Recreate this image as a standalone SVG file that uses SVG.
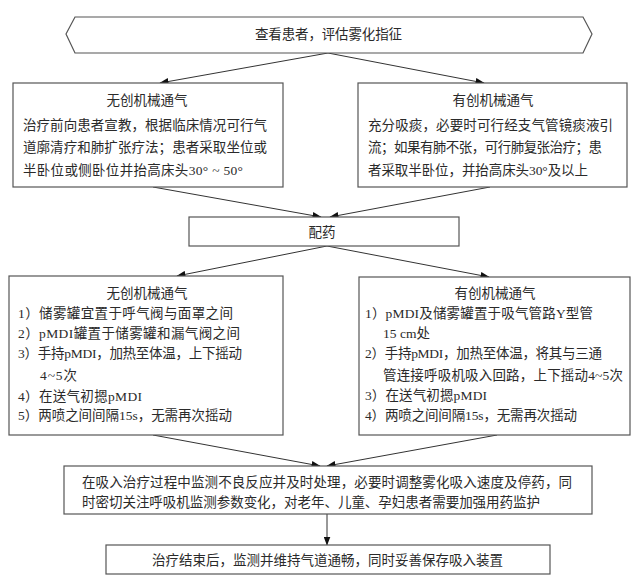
<svg xmlns="http://www.w3.org/2000/svg" width="640" height="586" viewBox="0 0 640 586">
<defs>
<style>
.box{fill:#fff;stroke:#555;stroke-width:1.2}
.t{font-family:"Liberation Serif","Noto Sans CJK SC",serif;font-size:13.5px;fill:#2a2a2a}
.c{text-anchor:middle}
.ln{stroke:#333;stroke-width:1;fill:none}
</style>
<marker id="ah" markerWidth="9" markerHeight="7" refX="8.5" refY="3.5" orient="auto" markerUnits="userSpaceOnUse">
<path d="M0,0 L9,3.5 L0,7 Z" fill="#111"/>
</marker>
</defs>
<rect width="640" height="586" fill="#fff"/>
<g id="connectors">
<line class="ln" x1="328" y1="53" x2="160" y2="83" marker-end="url(#ah)"/>
<line class="ln" x1="328" y1="53" x2="484" y2="83" marker-end="url(#ah)"/>
<line class="ln" x1="153" y1="187" x2="321" y2="217" marker-end="url(#ah)"/>
<line class="ln" x1="490" y1="187" x2="330" y2="217" marker-end="url(#ah)"/>
<line class="ln" x1="327" y1="246" x2="177" y2="276" marker-end="url(#ah)"/>
<line class="ln" x1="327" y1="246" x2="489" y2="277" marker-end="url(#ah)"/>
<line class="ln" x1="153" y1="435" x2="320" y2="466" marker-end="url(#ah)"/>
<line class="ln" x1="497" y1="435" x2="327" y2="466" marker-end="url(#ah)"/>
<line class="ln" x1="327" y1="514" x2="327" y2="545" marker-end="url(#ah)"/>
</g>
<g id="assess">
<polygon class="box" points="66,34 75,17 583,17 592,34 583,53 75,53"/>
<text class="t" x="255" y="39" textLength="147" lengthAdjust="spacing">查看患者，评估雾化指征</text>
</g>
<g id="noninvasive1">
<rect class="box" x="13" y="83" width="270" height="104"/>
<text class="t c" x="147" y="105">无创机械通气</text>
<text class="t" x="23" y="130" textLength="244" lengthAdjust="spacing">治疗前向患者宣教，根据临床情况可行气</text>
<text class="t" x="23" y="152" textLength="244" lengthAdjust="spacing">道廓清疗和肺扩张疗法；患者采取坐位或</text>
<text class="t" x="23" y="175" textLength="220" lengthAdjust="spacing">半卧位或侧卧位并抬高床头30° ~ 50°</text>
</g>
<g id="invasive1">
<rect class="box" x="358" y="83" width="269" height="104"/>
<text class="t c" x="493" y="105">有创机械通气</text>
<text class="t" x="368" y="130" textLength="245" lengthAdjust="spacing">充分吸痰，必要时可行经支气管镜痰液引</text>
<text class="t" x="368" y="152" textLength="234" lengthAdjust="spacing">流；如果有肺不张，可行肺复张治疗；患</text>
<text class="t" x="368" y="175" textLength="220" lengthAdjust="spacing">者采取半卧位，并抬高床头30°及以上</text>
</g>
<g id="dispense">
<rect class="box" x="189" y="217" width="270" height="29"/>
<text class="t c" x="322" y="237">配药</text>
</g>
<g id="noninvasive2">
<rect class="box" x="9" y="276" width="274" height="159"/>
<text class="t c" x="147" y="298">无创机械通气</text>
<text class="t" x="18" y="318" textLength="215" lengthAdjust="spacing">1）储雾罐宜置于呼气阀与面罩之间</text>
<text class="t" x="18" y="338" textLength="222" lengthAdjust="spacing">2）pMDI罐置于储雾罐和漏气阀之间</text>
<text class="t" x="18" y="358" textLength="224" lengthAdjust="spacing">3）手持pMDI，加热至体温，上下摇动</text>
<text class="t" x="40" y="380" textLength="37" lengthAdjust="spacing">4~5次</text>
<text class="t" x="18" y="401" textLength="124" lengthAdjust="spacing">4）在送气初摁pMDI</text>
<text class="t" x="18" y="420" textLength="214" lengthAdjust="spacing">5）两喷之间间隔15s，无需再次摇动</text>
</g>
<g id="invasive2">
<rect class="box" x="359" y="277" width="271" height="158"/>
<text class="t c" x="495" y="298">有创机械通气</text>
<text class="t" x="365" y="318" textLength="228" lengthAdjust="spacing">1）pMDI及储雾罐置于吸气管路Y型管</text>
<text class="t" x="383" y="338" textLength="47" lengthAdjust="spacing">15 cm处</text>
<text class="t" x="365" y="358" textLength="237" lengthAdjust="spacing">2）手持pMDI，加热至体温，将其与三通</text>
<text class="t" x="383" y="380" textLength="240" lengthAdjust="spacing">管连接呼吸机吸入回路，上下摇动4~5次</text>
<text class="t" x="365" y="400" textLength="122" lengthAdjust="spacing">3）在送气初摁pMDI</text>
<text class="t" x="365" y="420" textLength="212" lengthAdjust="spacing">4）两喷之间间隔15s，无需再次摇动</text>
</g>
<g id="monitor">
<rect class="box" x="64" y="466" width="528" height="48"/>
<text class="t" x="82" y="487" textLength="490" lengthAdjust="spacing">在吸入治疗过程中监测不良反应并及时处理，必要时调整雾化吸入速度及停药，同</text>
<text class="t" x="82" y="507" textLength="458" lengthAdjust="spacing">时密切关注呼吸机监测参数变化，对老年、儿童、孕妇患者需要加强用药监护</text>
</g>
<g id="finish">
<rect class="box" x="106" y="545" width="444" height="29"/>
<text class="t" x="152" y="565" textLength="351" lengthAdjust="spacing">治疗结束后，监测并维持气道通畅，同时妥善保存吸入装置</text>
</g>
</svg>
